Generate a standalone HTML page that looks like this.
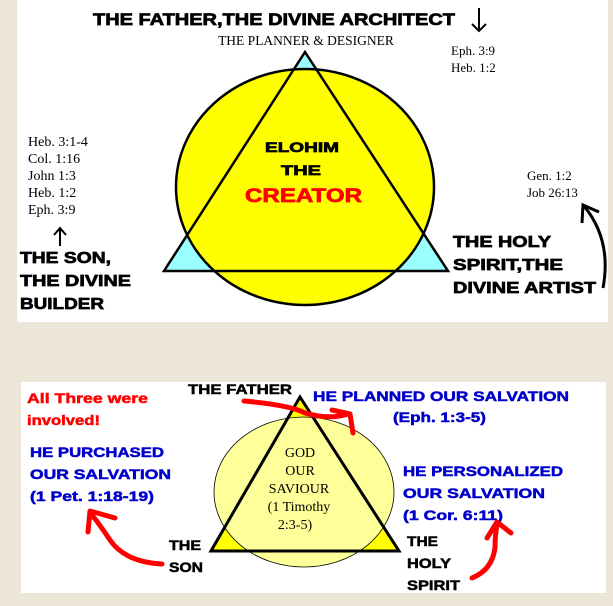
<!DOCTYPE html>
<html><head><meta charset="utf-8"><style>
html,body{margin:0;padding:0;}
body{width:613px;height:606px;background:#ece6d9;position:relative;overflow:hidden;}
svg{position:absolute;left:0;top:0;}
.h{font-family:"Liberation Sans",sans-serif;font-weight:bold;}
.s{font-family:"Liberation Serif",serif;}
</style></head><body>
<svg width="613" height="606" viewBox="0 0 613 606">
<rect x="17" y="0" width="591" height="322" fill="#fff"/>
<rect x="21" y="382" width="585" height="211" fill="#fff"/>
<!-- top diagram -->
<polygon points="305,52 164,271 448,271" fill="#99ffff"/>
<ellipse cx="305" cy="187" rx="129" ry="118" fill="#ffff00" stroke="#000" stroke-width="2.5"/>
<polygon points="305,52 164,271 448,271" fill="none" stroke="#000" stroke-width="2.5"/>
<g class="h" font-size="16" fill="#000" stroke="#000" stroke-width="0.7">
<text x="93" y="25" textLength="362" lengthAdjust="spacingAndGlyphs" font-size="16.5">THE  FATHER,THE DIVINE ARCHITECT</text>
<text x="20" y="263" textLength="91" lengthAdjust="spacingAndGlyphs">THE SON,</text>
<text x="20" y="286" textLength="111" lengthAdjust="spacingAndGlyphs">THE DIVINE</text>
<text x="20" y="309" textLength="84" lengthAdjust="spacingAndGlyphs">BUILDER</text>
<text x="453" y="247" textLength="98" lengthAdjust="spacingAndGlyphs">THE HOLY</text>
<text x="453" y="270" textLength="110" lengthAdjust="spacingAndGlyphs">SPIRIT,THE</text>
<text x="453" y="293" textLength="143" lengthAdjust="spacingAndGlyphs">DIVINE ARTIST</text>
<text x="265" y="152" font-size="14" textLength="74" lengthAdjust="spacingAndGlyphs">ELOHIM</text>
<text x="281" y="175" font-size="14" textLength="40" lengthAdjust="spacingAndGlyphs">THE</text>
<text x="245" y="202" font-size="19" fill="#ff0000" stroke="#ff0000" textLength="117" lengthAdjust="spacingAndGlyphs">CREATOR</text>
</g>
<g class="s" font-size="14" fill="#000">
<text x="306" y="45" text-anchor="middle" font-size="13.5">THE PLANNER &amp; DESIGNER</text>
<text x="451" y="55" font-size="13">Eph. 3:9</text>
<text x="451" y="72" font-size="13">Heb. 1:2</text>
<text x="28" y="146">Heb. 3:1-4</text>
<text x="28" y="163">Col. 1:16</text>
<text x="28" y="180">John 1:3</text>
<text x="28" y="197">Heb. 1:2</text>
<text x="28" y="214">Eph. 3:9</text>
<text x="527" y="180" font-size="13">Gen. 1:2</text>
<text x="527" y="197" font-size="13">Job 26:13</text>
</g>
<g stroke="#000" stroke-width="2" fill="none">
<line x1="479" y1="8" x2="479" y2="31"/><polyline points="472,24 479,31 486,24"/>
<line x1="60" y1="246" x2="60" y2="229"/><polyline points="54,235 60,228 66,235"/>
<path d="M603,288 Q612,240 584,206" stroke-width="3"/>
<polyline points="582,223 583,205 599,212" stroke-width="3"/>
</g>
<!-- bottom diagram -->
<polygon points="300,397 211,551 399,551" fill="#ffff00"/>
<ellipse cx="304" cy="492" rx="90" ry="75" fill="#ffff99" stroke="#000" stroke-width="0.8"/>
<polygon points="300,397 211,551 399,551" fill="none" stroke="#000" stroke-width="3"/>
<g class="s" font-size="14" text-anchor="middle" fill="#000">
<text x="300" y="457">GOD</text>
<text x="300" y="475">OUR</text>
<text x="299" y="493">SAVIOUR</text>
<text x="299" y="511">(1 Timothy</text>
<text x="295" y="529">2:3-5)</text>
</g>
<g class="h" font-size="14" stroke-width="0.5">
<text x="188" y="394" fill="#000" stroke="#000" textLength="104" lengthAdjust="spacingAndGlyphs">THE FATHER</text>
<text x="169" y="550" fill="#000" stroke="#000" textLength="32" lengthAdjust="spacingAndGlyphs">THE</text>
<text x="169" y="572" fill="#000" stroke="#000" textLength="34" lengthAdjust="spacingAndGlyphs">SON</text>
<text x="407" y="546" fill="#000" stroke="#000" textLength="31" lengthAdjust="spacingAndGlyphs">THE</text>
<text x="407" y="568" fill="#000" stroke="#000" textLength="44" lengthAdjust="spacingAndGlyphs">HOLY</text>
<text x="407" y="590" fill="#000" stroke="#000" textLength="53" lengthAdjust="spacingAndGlyphs">SPIRIT</text>
<text x="27" y="403" fill="#ff0000" stroke="#ff0000" font-size="13.5" textLength="121" lengthAdjust="spacingAndGlyphs">All Three were</text>
<text x="27" y="425" fill="#ff0000" stroke="#ff0000" font-size="13.5" textLength="73" lengthAdjust="spacingAndGlyphs">involved!</text>
<text x="313" y="401" fill="#0000cc" stroke="#0000cc" textLength="256" lengthAdjust="spacingAndGlyphs">HE PLANNED OUR SALVATION</text>
<text x="393" y="422" fill="#0000cc" stroke="#0000cc" textLength="93" lengthAdjust="spacingAndGlyphs">(Eph. 1:3-5)</text>
<text x="30" y="457" fill="#0000cc" stroke="#0000cc" textLength="134" lengthAdjust="spacingAndGlyphs">HE PURCHASED</text>
<text x="30" y="479" fill="#0000cc" stroke="#0000cc" textLength="141" lengthAdjust="spacingAndGlyphs">OUR SALVATION</text>
<text x="30" y="501" fill="#0000cc" stroke="#0000cc" textLength="124" lengthAdjust="spacingAndGlyphs">(1 Pet. 1:18-19)</text>
<text x="403" y="476" fill="#0000cc" stroke="#0000cc" textLength="160" lengthAdjust="spacingAndGlyphs">HE PERSONALIZED</text>
<text x="403" y="498" fill="#0000cc" stroke="#0000cc" textLength="142" lengthAdjust="spacingAndGlyphs">OUR SALVATION</text>
<text x="403" y="520" fill="#0000cc" stroke="#0000cc" textLength="100" lengthAdjust="spacingAndGlyphs">(1 Cor. 6:11)</text>
</g>
<g stroke="#ff0000" stroke-width="5" fill="none" stroke-linecap="round" stroke-linejoin="round">
<path d="M244,401 Q290,405 305,413 Q330,420 348,414"/>
<polyline points="332,410 350,414 353,433"/>
<path d="M162,564 Q125,562 110,540 Q100,525 92,515"/>
<polyline points="88,532 90,511 115,518"/>
<path d="M472,578 Q492,570 495,548 Q495,535 497,525"/>
<polyline points="487,538 497,522 511,533"/>
</g>
</svg>
</body></html>
